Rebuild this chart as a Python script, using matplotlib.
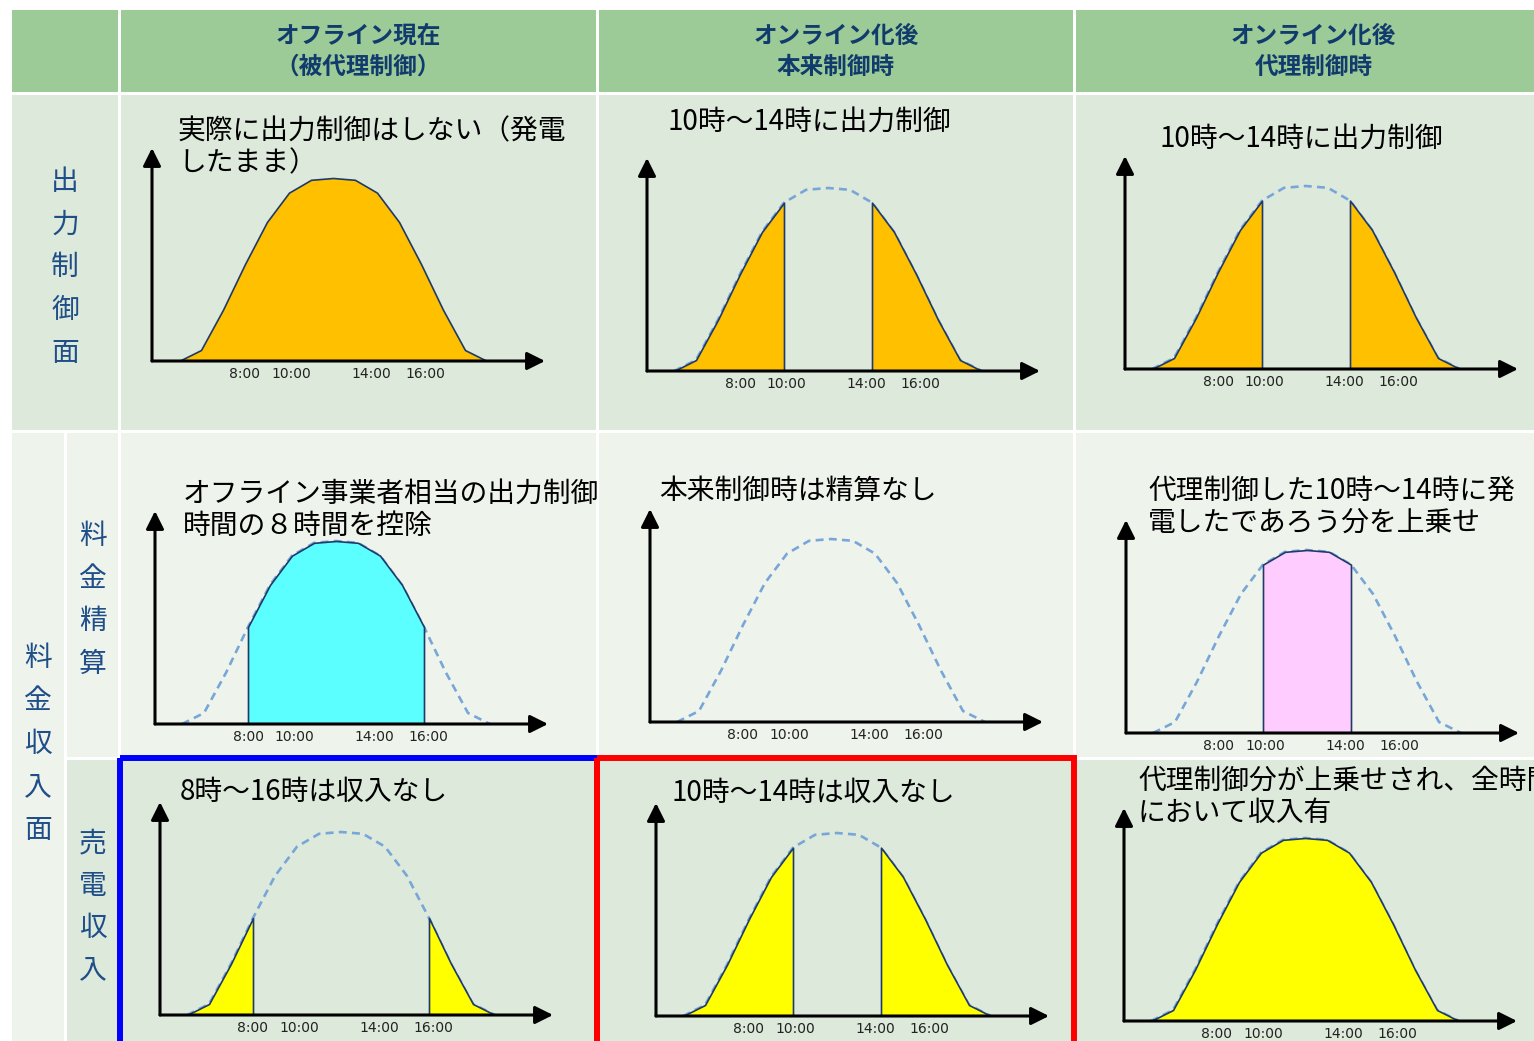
import numpy as np
import matplotlib
matplotlib.use("Agg")
import matplotlib.pyplot as plt
from matplotlib.patches import Rectangle

plt.rcParams['font.family'] = ['Noto Sans CJK JP', 'DejaVu Sans']

# 発電量カーブ (ピーク = 1.0)
hours = [5, 6, 7, 8, 9, 10, 11, 12, 13, 14, 15, 16, 17, 18, 19]
output = [0, 0.06, 0.28, 0.53, 0.76, 0.92, 0.99, 1.0, 0.99, 0.92, 0.76, 0.53, 0.28, 0.06, 0]

tick_hours = [8, 10, 14, 16]
tick_labels = ["8:00", "10:00", "14:00", "16:00"]

col_titles = [["オフライン現在", "（被代理制御）"],
              ["オンライン化後", "本来制御時"],
              ["オンライン化後", "代理制御時"]]

label_output = "出力制御面"
label_income = "料金収入面"
label_settle = "料金精算"
label_sales = "売電収入"

panel_titles = [
    [["実際に出力制御はしない（発電", "したまま）"], ["10時～14時に出力制御"], ["10時～14時に出力制御"]],
    [["オフライン事業者相当の出力制御", "時間の８時間を控除"], ["本来制御時は精算なし"],
     ["代理制御した10時～14時に発", "電したであろう分を上乗せ"]],
    [["8時～16時は収入なし"], ["10時～14時は収入なし"],
     ["代理制御分が上乗せされ、全時間", "において収入有"]],
]

# filled time ranges (start, end) per panel
fill_ranges = [
    [[(5, 19)], [(5, 10), (14, 19)], [(5, 10), (14, 19)]],
    [[(8, 16)], [], [(10, 14)]],
    [[(5, 8), (16, 19)], [(5, 10), (14, 19)], [(5, 19)]],
]
fill_colors = [
    ["#ffc000", "#ffc000", "#ffc000"],
    ["#5cffff", None, "#ffccff"],
    ["#ffff00", "#ffff00", "#ffff00"],
]
show_dashed = [[False, True, True], [True, True, True], [True, True, True]]

# layout in pixels
W, H = 1534, 1041
origins = [[(152, 361), (647, 371), (1125, 369)],
           [(155, 724), (650, 722), (1126, 733)],
           [(160, 1015), (656, 1016), (1124, 1021)]]
title_pos = [[(178, 131), (668, 122), (1160, 139)],
             [(183, 494), (659, 491), (1148, 491)],
             [(180, 792), (672, 793), (1138, 781)]]
tick_shift = [0, 2, -6, 4]
ax_w, ax_h = 393, 213
px_hour, peak_dx, peak_h = 22.0, 181, 183

header_green = "#9ccb98"
cell_dark = "#dde9da"
cell_light = "#eef4ec"
navy_text = "#113b6c"
label_blue = "#1f4e88"
outline = "#1f3a68"
dash_blue = "#78a6d8"

fig = plt.figure(figsize=(W / 100, H / 100), dpi=100)
fig.patch.set_facecolor("white")

bg = fig.add_axes([0, 0, 1, 1])
bg.set_xlim(0, W)
bg.set_ylim(H, 0)
bg.axis("off")


def cell(x0, y0, x1, y1, color):
    bg.add_patch(Rectangle((x0, y0), x1 - x0, y1 - y0, facecolor=color, edgecolor="none"))


cols = [(121, 596), (599, 1073), (1076, 1551)]
# header row
cell(12, 10, 118, 92, header_green)
for (x0, x1), title in zip(cols, col_titles):
    cell(x0, 10, x1, 92, header_green)
    cx = (x0 + x1) / 2
    bg.text(cx, 36, title[0], ha="center", va="center", fontsize=17,
            fontweight="bold", color=navy_text)
    bg.text(cx, 67, title[1], ha="center", va="center", fontsize=17,
            fontweight="bold", color=navy_text)

# body cells
cell(12, 95, 118, 430, cell_dark)
cell(12, 433, 64, 1041, cell_light)
cell(67, 433, 118, 757, cell_light)
cell(67, 760, 118, 1041, cell_dark)
for x0, x1 in cols:
    cell(x0, 95, x1, 430, cell_dark)
    cell(x0, 433, x1, 757, cell_light)
    cell(x0, 760, x1, 1041, cell_dark)


def vertical(text, x, y0, step):
    for i, ch in enumerate(text):
        bg.text(x, y0 + i * step, ch, ha="center", va="center",
                fontsize=20, color=label_blue)


vertical(label_output, 65, 182, 42.7)
vertical(label_settle, 93, 536, 42.7)
vertical(label_income, 38, 658, 43)
vertical(label_sales, 93, 843, 42.5)

# highlight frames on the sales-income row
bg.add_patch(Rectangle((120, 757.5), 477, 400, fill=False, edgecolor="#0000ff",
                       lw=4.3, joinstyle="miter"))
bg.add_patch(Rectangle((597, 757.5), 477, 400, fill=False, edgecolor="#ff0000",
                       lw=4.3, joinstyle="miter"))

t = np.array(hours, dtype=float)
y = np.array(output)

for r in range(3):
    for c in range(3):
        ox, oy = origins[r][c]
        ax = fig.add_axes([ox / W, 1 - oy / H, ax_w / W, ax_h / H])
        ax.set_facecolor("none")
        t0 = 12 - peak_dx / px_hour
        ax.set_xlim(t0, t0 + ax_w / px_hour)
        ax.set_ylim(0, ax_h / peak_h)
        ax.axis("off")

        if show_dashed[r][c]:
            ax.plot(t, y, color=dash_blue, lw=1.9, linestyle=(0, (3.0, 2.0)), zorder=1)
        for start, end in fill_ranges[r][c]:
            m = (t >= start) & (t <= end)
            ax.fill_between(t[m], 0, y[m], facecolor=fill_colors[r][c],
                            edgecolor=outline, lw=1.2, zorder=2)

        for xy in [(1, 0), (0, 1)]:
            ax.annotate("", xy=xy, xytext=(0, 0), xycoords="axes fraction",
                        annotation_clip=False, zorder=5,
                        arrowprops=dict(arrowstyle="-|>,head_length=0.9,head_width=0.45",
                                        lw=2.2, color="black", shrinkA=0, shrinkB=0,
                                        mutation_scale=12))

        # time labels under the axis
        for h, lab, dx in zip(tick_hours, tick_labels, tick_shift):
            ax.annotate(lab, (h, 0), xytext=(dx, -13), textcoords="offset pixels",
                        ha="center", va="center", fontsize=10,
                        fontfamily="DejaVu Sans", color="#222222",
                        annotation_clip=False)

        tx, ty = title_pos[r][c]
        for i, line in enumerate(panel_titles[r][c]):
            bg.text(tx, ty + i * 32, line, ha="left", va="center",
                    fontsize=20, color="black")

fig.savefig("out.png", dpi=100)
